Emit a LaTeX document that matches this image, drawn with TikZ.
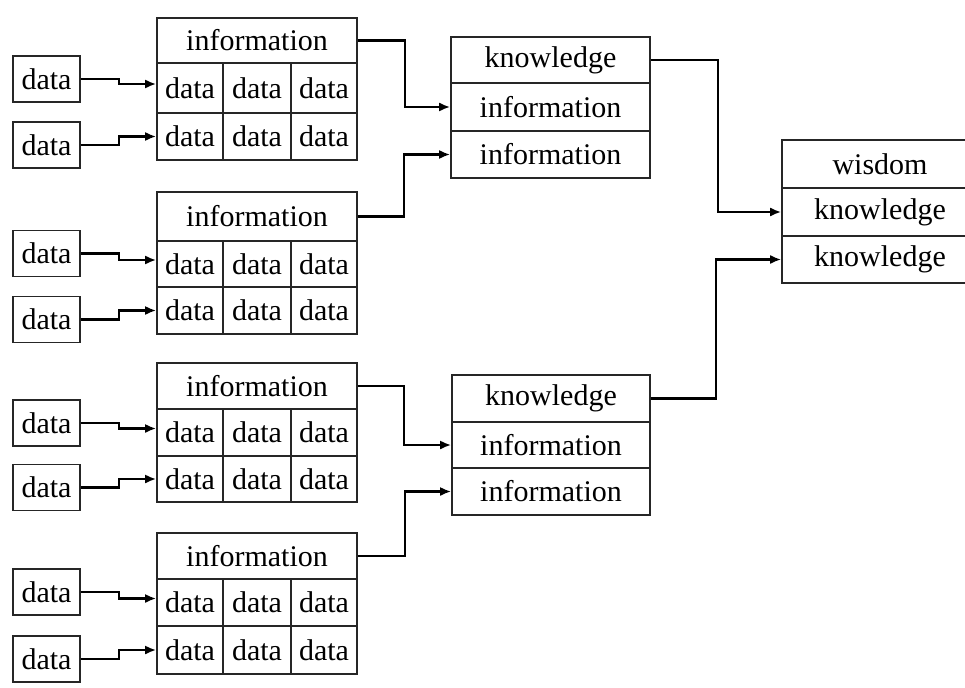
\documentclass[tikz,border=0pt]{standalone}
\usepackage{fontspec}
\setmainfont{Liberation Serif}
\usetikzlibrary{arrows.meta}
\tikzset{
  box/.style={draw=black!85, line width=1.6pt, inner sep=0pt, anchor=center,
    font=\fontsize{30}{34}\selectfont},
  conn/.style={line width=2.2pt, black, -{Latex[length=11pt,width=9pt]}}
}
\begin{document}
\begin{tikzpicture}[x=1pt,y=-1pt]
\clip (0,0) rectangle (965,687);
\fill[white] (0,0) rectangle (965,687);
% information groups
\foreach \g/\t/\hb/\ra/\bt in {1/18/63/113/160, 2/192/241/287/334, 3/363/409/456/502, 4/533/579/626/674}{
  \pgfmathsetmacro\hc{(\t+\hb)/2}
  \pgfmathsetmacro\hh{\hb-\t}
  \pgfmathsetmacro\ac{(\hb+\ra)/2}
  \pgfmathsetmacro\ah{\ra-\hb}
  \pgfmathsetmacro\bc{(\ra+\bt)/2}
  \pgfmathsetmacro\bh{\bt-\ra}
  \node[box, minimum width=200pt, minimum height=\hh pt] (h\g) at (257,\hc) {information};
  \node[box, minimum width=66pt, minimum height=\ah pt] (r\g a) at (190,\ac) {data};
  \node[box, minimum width=68pt, minimum height=\ah pt] (r\g a2) at (257,\ac) {data};
  \node[box, minimum width=66pt, minimum height=\ah pt] (r\g a3) at (324,\ac) {data};
  \node[box, minimum width=66pt, minimum height=\bh pt] (r\g b) at (190,\bc) {data};
  \node[box, minimum width=68pt, minimum height=\bh pt] (r\g b2) at (257,\bc) {data};
  \node[box, minimum width=66pt, minimum height=\bh pt] (r\g b3) at (324,\bc) {data};
}
% data boxes
\foreach \n/\c in {1/79, 2/145, 3/253.5, 4/319.5, 5/423, 6/487.5, 7/592, 8/659}{
  \node[box, minimum width=67pt, minimum height=46pt] (d\n) at (46.5,\c) {data};
}
% knowledge boxes
\node[box, minimum width=199pt, minimum height=46pt] (k1h) at (550.5,60) {knowledge};
\node[box, minimum width=199pt, minimum height=48pt] (k1a) at (550.5,107) {information};
\node[box, minimum width=199pt, minimum height=47pt] (k1b) at (550.5,154.5) {information};
\node[box, minimum width=198pt, minimum height=47pt] (k2h) at (551,398.5) {knowledge};
\node[box, minimum width=198pt, minimum height=46pt] (k2a) at (551,445) {information};
\node[box, minimum width=198pt, minimum height=47pt] (k2b) at (551,491.5) {information};
% wisdom box
\node[box, minimum width=196pt, minimum height=48pt] (wh) at (880,164) {wisdom};
\node[box, minimum width=196pt, minimum height=48pt] (wa) at (880,212) {knowledge};
\node[box, minimum width=196pt, minimum height=47pt] (wb) at (880,259.5) {knowledge};
% data -> information
\draw[conn] (d1.east) -- ++(38,0) |- ([yshift=4pt]r1a.west);
\draw[conn] (d2.east) -- ++(38,0) |- (r1b.west);
\draw[conn] (d3.east) -- ++(38,0) |- ([yshift=4pt]r2a.west);
\draw[conn] (d4.east) -- ++(38,0) |- (r2b.west);
\draw[conn] (d5.east) -- ++(38,0) |- ([yshift=4pt]r3a.west);
\draw[conn] (d6.east) -- ++(38,0) |- (r3b.west);
\draw[conn] (d7.east) -- ++(38,0) |- ([yshift=4pt]r4a.west);
\draw[conn] (d8.east) -- ++(38,0) |- (r4b.west);
% information -> knowledge
\draw[conn] (h1.east) -- ++(47,0) |- (k1a.west);
\draw[conn] (h2.east) -- ++(46,0) |- (k1b.west);
\draw[conn] (h3.east) -- ++(46,0) |- (k2a.west);
\draw[conn] (h4.east) -- ++(47,0) |- (k2b.west);
% knowledge -> wisdom
\draw[conn] (k1h.east) -- ++(67,0) |- (wa.west);
\draw[conn] (k2h.east) -- ++(65,0) |- (wb.west);
\end{tikzpicture}
\end{document}
